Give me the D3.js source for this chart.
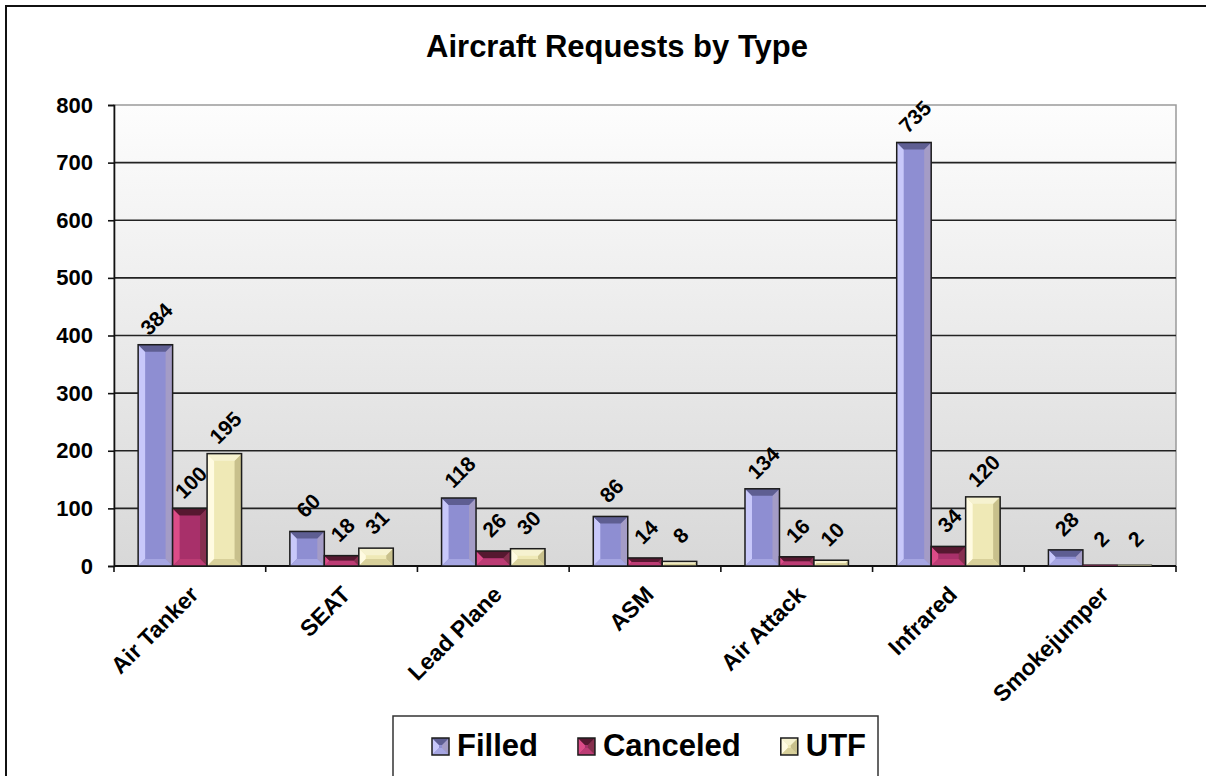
<!DOCTYPE html>
<html>
<head>
<meta charset="utf-8">
<script src="https://cdn.jsdelivr.net/npm/d3@7/dist/d3.min.js"></script>
<style>
  html, body { margin: 0; padding: 0; background: #fff; }
  svg { display: block; font-family: Arial, "Liberation Sans", sans-serif; }
</style>
</head>
<body>
<svg id="chart" width="1206" height="776"></svg>
<script>
// Aircraft requests per aircraft type
const categories = ["Air Tanker", "SEAT", "Lead Plane", "ASM", "Air Attack", "Infrared", "Smokejumper"];
const seriesNames = ["Filled", "Canceled", "UTF"];
const filled   = [384, 60, 118, 86, 134, 735, 28];
const canceled = [100, 18, 26, 14, 16, 34, 2];
const utf      = [195, 31, 30, 8, 10, 120, 2];
const yTicks   = [0, 100, 200, 300, 400, 500, 600, 700, 800];

const seriesValues = { Filled: filled, Canceled: canceled, UTF: utf };

// bevelled fill tones for each series
const palettes = {
  Filled:   { face: "#8e8ed2", left: "#c8c8fa", right: "#a49cc6", top: "#5e5e92", bottom: "#a6a6e2" },
  Canceled: { face: "#a8306a", left: "#dc4c88", right: "#86304e", top: "#561830", bottom: "#bc3c74" },
  UTF:      { face: "#efe9b6", left: "#fffbe2", right: "#c8c08c", top: "#f6f2d0", bottom: "#d8d09a" }
};

const svg = d3.select("#chart");
const plot = { left: 114, right: 1176, top: 105, bottom: 566 };

// outer chart frame
svg.append("rect")
  .attr("x", 6).attr("y", 6).attr("width", 1300).attr("height", 900)
  .attr("fill", "#fff").attr("stroke", "#111").attr("stroke-width", 2);

// title
svg.append("text")
  .attr("x", 617).attr("y", 57)
  .attr("text-anchor", "middle")
  .attr("font-size", 31).attr("font-weight", "bold").attr("fill", "#000")
  .text("Aircraft Requests by Type");

const defs = svg.append("defs");
const bg = defs.append("linearGradient").attr("id", "plotBg")
  .attr("x1", 0).attr("y1", 0).attr("x2", 0).attr("y2", 1);
bg.append("stop").attr("offset", "0%").attr("stop-color", "#fdfdfd");
bg.append("stop").attr("offset", "100%").attr("stop-color", "#d8d8d8");

const x0 = d3.scaleBand().domain(categories).range([plot.left, plot.right]);
const x1 = d3.scaleBand().domain(seriesNames).range([0, x0.bandwidth()]).paddingOuter(0.7);
const y = d3.scaleLinear().domain([0, 800]).range([plot.bottom, plot.top]);

// plot background
svg.append("rect")
  .attr("x", plot.left).attr("y", plot.top)
  .attr("width", plot.right - plot.left).attr("height", plot.bottom - plot.top)
  .attr("fill", "url(#plotBg)").attr("stroke", "#9a9a9a").attr("stroke-width", 1.5);

// horizontal gridlines
svg.append("g").selectAll("line")
  .data(yTicks.filter(t => t > 0 && t < 800))
  .join("line")
  .attr("x1", plot.left).attr("x2", plot.right)
  .attr("y1", d => y(d)).attr("y2", d => y(d))
  .attr("stroke", "#222").attr("stroke-width", 1.6);

// y axis
const yAxis = svg.append("g")
  .attr("transform", `translate(${plot.left},0)`)
  .call(d3.axisLeft(y).tickValues(yTicks).tickSize(6).tickPadding(15).tickFormat(d3.format("d")));
yAxis.select(".domain").attr("stroke", "#111").attr("stroke-width", 1.6);
yAxis.selectAll(".tick line").attr("stroke", "#111").attr("stroke-width", 1.6);
yAxis.selectAll(".tick text")
  .attr("font-size", 22).attr("font-weight", "bold").attr("fill", "#000")
  .attr("font-family", "Arial, 'Liberation Sans', sans-serif");

// x axis with ticks at category boundaries
const xAxisG = svg.append("g");
xAxisG.append("line")
  .attr("x1", plot.left).attr("x2", plot.right)
  .attr("y1", plot.bottom).attr("y2", plot.bottom)
  .attr("stroke", "#111").attr("stroke-width", 1.8);
const boundaries = categories.map(c => x0(c)).concat([plot.right]);
xAxisG.selectAll("line.tick")
  .data(boundaries)
  .join("line").attr("class", "tick")
  .attr("x1", d => d).attr("x2", d => d)
  .attr("y1", plot.bottom).attr("y2", plot.bottom + 6)
  .attr("stroke", "#111").attr("stroke-width", 1.6);
xAxisG.selectAll("text")
  .data(categories)
  .join("text")
  .attr("transform", d => `translate(${x0(d) + x0.bandwidth() / 2 + 10},${plot.bottom + 30}) rotate(-45)`)
  .attr("text-anchor", "end")
  .attr("font-size", 23).attr("font-weight", "bold").attr("fill", "#000")
  .text(d => d);

// bevelled bar drawing
function bevelBar(g, x, yTop, w, h, p) {
  const b = Math.max(0, Math.min(7, h / 2, w / 2));
  const grp = g.append("g");
  grp.append("rect").attr("x", x).attr("y", yTop).attr("width", w).attr("height", h).attr("fill", p.face);
  if (b > 0.5) {
    const poly = pts => pts.map(q => q.join(",")).join(" ");
    grp.append("polygon").attr("fill", p.left)
      .attr("points", poly([[x, yTop], [x + b, yTop + b], [x + b, yTop + h - b], [x, yTop + h]]));
    grp.append("polygon").attr("fill", p.right)
      .attr("points", poly([[x + w, yTop], [x + w - b, yTop + b], [x + w - b, yTop + h - b], [x + w, yTop + h]]));
    grp.append("polygon").attr("fill", p.top)
      .attr("points", poly([[x, yTop], [x + w, yTop], [x + w - b, yTop + b], [x + b, yTop + b]]));
    grp.append("polygon").attr("fill", p.bottom)
      .attr("points", poly([[x, yTop + h], [x + w, yTop + h], [x + w - b, yTop + h - b], [x + b, yTop + h - b]]));
  }
  grp.append("rect").attr("x", x).attr("y", yTop).attr("width", w).attr("height", h)
    .attr("fill", "none").attr("stroke", "#1c1c1c").attr("stroke-width", h < 3 ? 0.6 : 1.5);
}

const barsG = svg.append("g");
const labelsG = svg.append("g");
categories.forEach((c, i) => {
  seriesNames.forEach(s => {
    const v = seriesValues[s][i];
    const bx = x0(c) + x1(s);
    const bw = x1.bandwidth();
    const top = y(v);
    bevelBar(barsG, bx, top, bw, y(0) - top, palettes[s]);
    labelsG.append("text")
      .attr("transform", `translate(${bx + bw / 2 + 1},${top - 26}) rotate(-45)`)
      .attr("text-anchor", "middle")
      .attr("dominant-baseline", "central")
      .attr("font-size", 21).attr("font-weight", "bold").attr("fill", "#000")
      .text(v);
  });
});

// legend
const legend = svg.append("g");
legend.append("rect")
  .attr("x", 393).attr("y", 716).attr("width", 485).attr("height", 100)
  .attr("fill", "#fff").attr("stroke", "#333").attr("stroke-width", 1.5);
let lx = 432;
seriesNames.forEach(s => {
  bevelBar(legend, lx, 738, 17, 17, palettes[s]);
  const t = legend.append("text")
    .attr("x", lx + 25).attr("y", 756)
    .attr("font-size", 31).attr("font-weight", "bold").attr("fill", "#000")
    .text(s);
  lx += 25 + t.node().getComputedTextLength() + 40;
});
</script>
</body>
</html>
